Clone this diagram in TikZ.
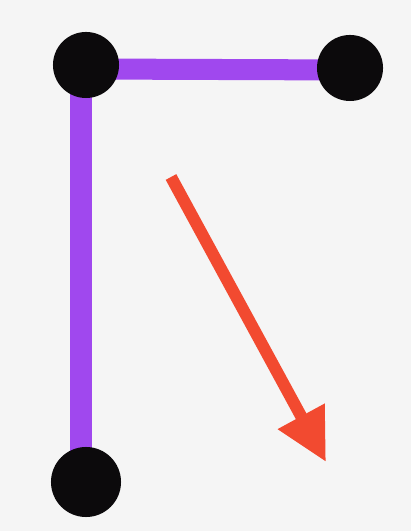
\documentclass[tikz,border=0pt]{standalone}
\usetikzlibrary{arrows.meta,backgrounds}
\definecolor{paper}{RGB}{245,245,245}
\definecolor{ink}{RGB}{12,10,12}
\definecolor{lilac}{RGB}{160,72,238}
\definecolor{redink}{RGB}{242,74,48}
\tikzset{
  dot/.style={circle, fill=ink, minimum size=0.66cm, inner sep=0pt},
  stroke/.style={lilac, line width=0.21cm},
}
\begin{document}
\begin{tikzpicture}[x=0.01cm,y=-0.01cm]
	\useasboundingbox (0,0) rectangle (411,531);
	% dots
	\node[dot] (tl) at (86,65) {};
	\node[dot] (tr) at (350,68) {};
	\node[dot, minimum size=0.7cm] (bl) at (86,482) {};
	% purple strokes
	\begin{scope}[on background layer]
		\fill[paper] (0,0) rectangle (411,531);
		\draw[stroke] (tl.center) ++(0,4) -- (tr.center |- 0,70);
		\draw[stroke] (tl.center) ++(-5,0) -- (81,470);
	\end{scope}
	% arrow
	\coordinate (from) at (171,177);
	\coordinate (to) at (326,462);
	\draw[redink, line width=0.12cm, -{Triangle[length=0.52cm,width=0.5cm]}] (from) -- (to);
\end{tikzpicture}
\end{document}
